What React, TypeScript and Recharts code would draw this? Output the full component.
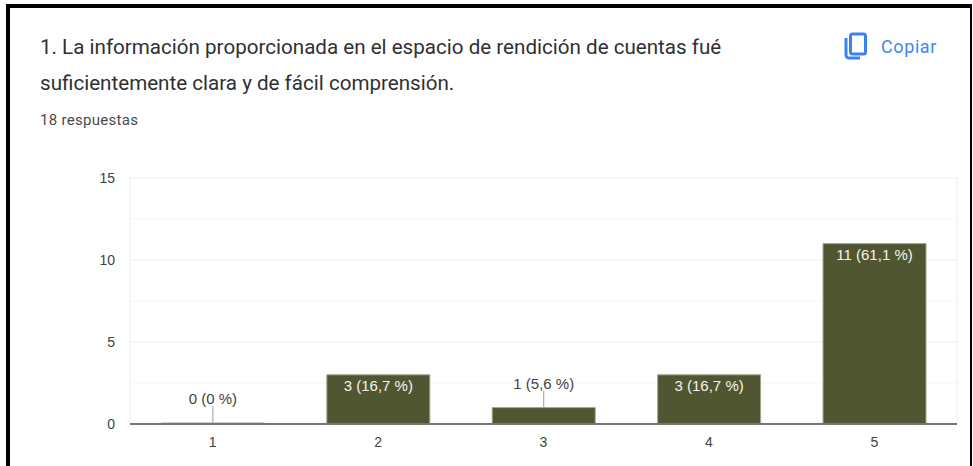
import { BarChart, Bar, XAxis, YAxis, CartesianGrid, LabelList, ReferenceLine } from 'recharts';

const categories = ['1', '2', '3', '4', '5'];
const counts = [0, 3, 1, 3, 11];
const percents = ['0 %', '16,7 %', '5,6 %', '16,7 %', '61,1 %'];
const majorTicks = [0, 5, 10, 15];
const minorTicks = [2.5, 7.5, 12.5];

const data = categories.map((name, i) => ({
  name,
  count: counts[i],
  label: `${counts[i]} (${percents[i]})`,
}));

const labelFont = '"Liberation Sans", Arial, sans-serif';

// etiqueta dentro de la barra si cabe, si no encima con una linea guia
function BarLabel(props: any) {
  const { x, y, width, value } = props;
  const cx = x + width / 2;
  const inside = parseInt(value, 10) >= 2;
  if (inside) {
    return (
      <text x={cx} y={y + 16} textAnchor="middle" fontSize={15} fontFamily={labelFont} fill="#f4f4ee">
        {value}
      </text>
    );
  }
  return (
    <g>
      <line x1={cx} x2={cx} y1={y} y2={y - 17} stroke="#9e9e9e" strokeWidth={1} />
      <text x={cx} y={y - 19} textAnchor="middle" fontSize={15} fontFamily={labelFont} fill="#424242">
        {value}
      </text>
    </g>
  );
}

export default function App() {
  return (
    <div
      style={{
        position: 'absolute',
        left: 0,
        top: 0,
        width: 973,
        height: 466,
        overflow: 'hidden',
        background: '#fff',
        fontFamily: 'Roboto, sans-serif',
      }}
    >
      <div
        style={{
          position: 'absolute',
          left: 6,
          top: 4,
          width: 966,
          height: 480,
          boxSizing: 'border-box',
          borderTop: '4px solid #000',
          borderLeft: '4px solid #000',
          borderRight: '2px solid #000',
        }}
      />
      <div style={{ position: 'absolute', left: 40, top: 29, fontSize: 20.6, lineHeight: '36px', color: '#2f3033', whiteSpace: 'nowrap' }}>
        1. La información proporcionada en el espacio de rendición de cuentas fué
        <br />
        suficientemente clara y de fácil comprensión.
      </div>
      <div style={{ position: 'absolute', left: 40, top: 111, fontSize: 15, letterSpacing: 0.3, lineHeight: '18px', color: '#4a4a4a', whiteSpace: 'nowrap' }}>
        18 respuestas
      </div>
      <svg style={{ position: 'absolute', left: 842, top: 30 }} width={28} height={32} viewBox="0 0 28 32">
        <rect x={8.5} y={4} width={15} height={20} rx={2} fill="none" stroke="#3b82f0" strokeWidth={3} />
        <path d="M4 8 V25 a3 3 0 0 0 3 3 H18" fill="none" stroke="#3b82f0" strokeWidth={3} />
      </svg>
      <div style={{ position: 'absolute', left: 881, top: 35, fontSize: 18, letterSpacing: 0.6, lineHeight: '24px', color: '#4285f4', whiteSpace: 'nowrap' }}>
        Copiar
      </div>
      <div style={{ position: 'absolute', left: 0, top: 0 }}>
        <BarChart
          width={973}
          height={466}
          data={data}
          margin={{ top: 178, right: 16, bottom: 0, left: 90 }}
          barCategoryGap="19%"
        >
          <CartesianGrid vertical={false} stroke="#f6f6f6" horizontalValues={minorTicks} />
          <CartesianGrid
            stroke="#eeeeee"
            horizontalValues={majorTicks}
            verticalCoordinatesGenerator={({ offset }: any) => [offset.left, offset.left + offset.width]}
            syncWithTicks={false}
          />
          <XAxis
            dataKey="name"
            height={42}
            axisLine={false}
            tickLine={false}
            tickMargin={7}
            tick={{ fontSize: 14, fontFamily: labelFont, fill: '#424242' }}
          />
          <YAxis
            width={40}
            domain={[0, 15]}
            ticks={majorTicks}
            axisLine={false}
            tickLine={false}
            tickMargin={9}
            tick={{ fontSize: 14, fontFamily: labelFont, fill: '#424242' }}
          />
          <Bar dataKey="count" fill="#515632" stroke="#a3a693" strokeWidth={1} minPointSize={1} isAnimationActive={false}>
            <LabelList dataKey="label" content={BarLabel} />
          </Bar>
          <ReferenceLine y={0} stroke="#757575" strokeWidth={2} />
        </BarChart>
      </div>
    </div>
  );
}
